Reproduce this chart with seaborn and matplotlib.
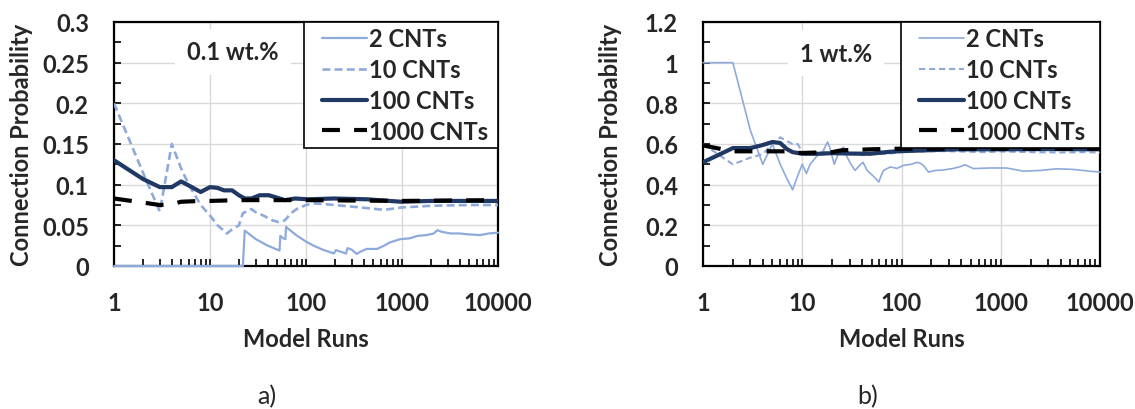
import matplotlib
matplotlib.use("Agg")
import matplotlib.pyplot as plt
import seaborn as sns
from matplotlib.ticker import MultipleLocator, LogLocator, NullFormatter, FixedLocator
from matplotlib.lines import Line2D
from matplotlib.legend_handler import HandlerLine2D

# ---------------- data ----------------
series_labels = ["2 CNTs", "10 CNTs", "100 CNTs", "1000 CNTs"]
x_tick_labels = ["1", "10", "100", "1000", "10000"]

# panel a) 0.1 wt.%
a_n_2 = [1, 22, 23, 30, 40, 53, 54, 58, 61, 62, 80, 100, 120, 150, 195, 205, 262, 270, 300,
         337, 360, 428, 550, 650, 750, 955, 1200, 1450, 1800, 2145, 2330, 2600, 3200, 4000,
         4800, 6500, 8000, 10000]
a_v_2 = [0.0, 0.0, 0.0435, 0.033, 0.025, 0.019, 0.037, 0.034, 0.033, 0.048, 0.0375, 0.030,
         0.025, 0.020, 0.0154, 0.0195, 0.0153, 0.022, 0.020, 0.0148, 0.017, 0.021, 0.021,
         0.025, 0.029, 0.033, 0.034, 0.037, 0.038, 0.040, 0.044, 0.042, 0.040, 0.040, 0.039,
         0.038, 0.040, 0.041]

a_n_10 = [1, 2, 3, 4, 5, 6, 8, 10, 12, 15, 17, 20, 22, 25, 27, 30, 36, 45, 52, 60, 70, 80,
          100, 120, 200, 300, 450, 650, 1000, 2000, 5000, 10000]
a_v_10 = [0.200, 0.115, 0.067, 0.150, 0.120, 0.100, 0.075, 0.062, 0.050, 0.040, 0.045,
          0.050, 0.065, 0.068, 0.070, 0.066, 0.062, 0.056, 0.054, 0.056, 0.065, 0.070,
          0.075, 0.077, 0.075, 0.073, 0.071, 0.069, 0.072, 0.074, 0.075, 0.075]

a_n_100 = [1, 2, 3, 4, 5, 6, 8, 10, 12, 14, 17, 20, 23, 27, 33, 41, 50, 60, 77, 105, 195,
           436, 975, 2000, 10000]
a_v_100 = [0.130, 0.107, 0.097, 0.097, 0.104, 0.099, 0.091, 0.097, 0.096, 0.093, 0.093,
           0.087, 0.083, 0.083, 0.087, 0.087, 0.084, 0.081, 0.083, 0.082, 0.083, 0.082,
           0.079, 0.080, 0.080]

a_n_1000 = [1, 2, 3, 4, 5, 8, 10, 20, 100, 1000, 10000]
a_v_1000 = [0.083, 0.078, 0.075, 0.076, 0.079, 0.080, 0.080, 0.081, 0.081, 0.080, 0.081]

# panel b) 1 wt.%
b_n_2 = [1, 2, 3, 4, 5, 6, 7, 8, 9, 10, 11, 12, 14, 16, 18, 19, 21, 23, 26, 28, 31, 34, 37,
         41, 45, 50, 55, 59, 63, 66, 77, 90, 105, 125, 143, 155, 166, 187, 220, 265, 333,
         400, 436, 531, 778, 1150, 1700, 2500, 3650, 5400, 7900, 10000]
b_v_2 = [1.0, 1.0, 0.667, 0.50, 0.60, 0.50, 0.43, 0.375, 0.444, 0.50, 0.455, 0.50, 0.54,
         0.56, 0.61, 0.58, 0.50, 0.55, 0.585, 0.54, 0.50, 0.47, 0.49, 0.51, 0.47, 0.45,
         0.43, 0.413, 0.45, 0.47, 0.487, 0.48, 0.495, 0.50, 0.51, 0.505, 0.495, 0.462,
         0.47, 0.472, 0.48, 0.49, 0.498, 0.479, 0.482, 0.482, 0.466, 0.47, 0.478, 0.475,
         0.466, 0.462]

b_n_10 = [1, 2, 3, 4, 5, 6, 7, 8, 9, 10, 11, 13, 15, 18, 22, 27, 33, 40, 50, 60, 77, 100,
          150, 250, 400, 700, 1000, 2000, 4000, 7000, 10000]
b_v_10 = [0.60, 0.50, 0.533, 0.55, 0.60, 0.633, 0.614, 0.60, 0.60, 0.56, 0.545, 0.554,
          0.56, 0.56, 0.55, 0.56, 0.55, 0.545, 0.55, 0.55, 0.553, 0.56, 0.563, 0.565,
          0.563, 0.56, 0.563, 0.56, 0.558, 0.56, 0.558]

b_n_100 = [1, 2, 3, 4, 5, 6, 7, 8, 10, 15, 20, 30, 48, 77, 100, 200, 360, 1000, 3000, 10000]
b_v_100 = [0.51, 0.58, 0.58, 0.595, 0.61, 0.605, 0.575, 0.56, 0.552, 0.552, 0.555, 0.553,
           0.552, 0.562, 0.565, 0.57, 0.574, 0.574, 0.575, 0.574]

b_n_1000 = [1, 2, 3, 5, 7, 8, 10, 20, 25, 50, 100, 1000, 10000]
b_v_1000 = [0.593, 0.564, 0.564, 0.564, 0.564, 0.557, 0.556, 0.560, 0.569, 0.574, 0.577,
            0.577, 0.577]

# ---------------- style ----------------
sns.set_theme(style="white")
plt.rcParams["font.family"] = ["Lato", "DejaVu Sans"]
plt.rcParams["font.weight"] = "bold"

LIGHT = "#8eaadb"
DARK = "#1f3864"
BLACK = "#000000"
GRID = "#d9d9d9"
FS = 17

W, H = 1135, 410
fig = plt.figure(figsize=(W / 100, H / 100), dpi=100)


def px_axes(x0, x1, y0, y1):
    return fig.add_axes([x0 / W, 1 - y1 / H, (x1 - x0) / W, (y1 - y0) / H])


def fmt_num(v, pos):
    return f"{v:.3f}".rstrip("0").rstrip(".")


def style_axes(ax, ymax, ymajor, yminor, width_px):
    ax.set_xscale("log")
    ax.set_xlim(1, 10000)
    ax.set_ylim(0, ymax)
    ax.set_xticks([1, 10, 100, 1000, 10000])
    ax.set_xticklabels(x_tick_labels)
    ax.xaxis.set_minor_locator(LogLocator(base=10, subs=range(2, 10), numticks=20))
    ax.xaxis.set_minor_formatter(NullFormatter())
    ax.yaxis.set_major_locator(MultipleLocator(ymajor))
    ax.yaxis.set_minor_locator(MultipleLocator(yminor))
    ax.yaxis.set_major_formatter(plt.FuncFormatter(fmt_num))
    ax.grid(True, which="major", color=GRID, lw=1.0, zorder=0)
    ax.set_axisbelow(True)
    for s in ax.spines.values():
        s.set_color("black")
        s.set_linewidth(1.6)
        s.set_visible(True)
    ax.tick_params(which="both", direction="in", length=5, width=1.2, color="black",
                   top=False, right=False, bottom=True, left=True)
    ax.tick_params(axis="x", which="major", pad=18, labelsize=FS)
    ax.tick_params(axis="y", which="major", pad=18, labelsize=FS)
    for lab in ax.get_xticklabels() + ax.get_yticklabels():
        lab.set_fontweight("bold")
    ax.set_xlabel("Model Runs", fontsize=FS, fontweight="bold", va="center")
    ax.xaxis.set_label_coords(0.5, -(340 - 267) / 244)
    ax.set_ylabel("Connection Probability", fontsize=FS, fontweight="bold", va="center")
    ax.yaxis.set_label_coords(-92 / width_px, 0.5)


def draw_panel(ax, data, lw_light, dash10, leg_x0):
    (n2, v2), (n10, v10), (n100, v100), (n1000, v1000) = data
    dash1000 = (0, (4.3, 3.4))
    sns.lineplot(x=n2, y=v2, ax=ax, color=LIGHT, lw=lw_light, estimator=None,
                 errorbar=None, zorder=3, clip_on=False)
    sns.lineplot(x=n10, y=v10, ax=ax, color=LIGHT, lw=lw_light + 0.3, estimator=None,
                 errorbar=None, linestyle=(0, dash10), zorder=3)
    sns.lineplot(x=n100, y=v100, ax=ax, color=DARK, lw=3.0, estimator=None,
                 errorbar=None, zorder=4)
    sns.lineplot(x=n1000, y=v1000, ax=ax, color=BLACK, lw=3.0, estimator=None,
                 errorbar=None, linestyle=dash1000, zorder=5)
    handles = [
        Line2D([], [], color=LIGHT, lw=lw_light),
        Line2D([], [], color=LIGHT, lw=lw_light + 0.3, linestyle=(0, dash10)),
        Line2D([], [], color=DARK, lw=3.0),
        Line2D([], [], color=BLACK, lw=3.0, linestyle=dash1000),
    ]
    hmap = {h: HandlerLine2D(xpad=0.55) for h in handles}
    leg = ax.legend(handles, series_labels, loc="upper right",
                    bbox_to_anchor=(leg_x0, 0, 1 - leg_x0, 1), mode="expand",
                    borderaxespad=0, frameon=True, fancybox=False, edgecolor="black",
                    framealpha=1, handlelength=2.45, handletextpad=0.08,
                    labelspacing=0.33, borderpad=0.22, handler_map=hmap,
                    prop={"family": ["Lato", "DejaVu Sans"], "weight": "bold", "size": FS})
    leg.get_frame().set_linewidth(1.2)
    leg.set_zorder(10)


# panel a
ax1 = px_axes(114, 498, 23, 267)
style_axes(ax1, 0.3, 0.05, 0.025, 384)
draw_panel(ax1, [(a_n_2, a_v_2), (a_n_10, a_v_10), (a_n_100, a_v_100), (a_n_1000, a_v_1000)],
           1.6, (3, 1.6), (304 - 114) / 384)
ax1.text((233 - 114) / 384, (267 - 53) / 244, "0.1 wt.%", transform=ax1.transAxes,
         ha="center", va="center", fontsize=FS, fontweight="bold", zorder=6,
         bbox=dict(boxstyle="square,pad=0.5", fc="white", ec="none"))

# panel b
ax2 = px_axes(703, 1100, 23, 267)
style_axes(ax2, 1.2, 0.2, 0.1, 397)
draw_panel(ax2, [(b_n_2, b_v_2), (b_n_10, b_v_10), (b_n_100, b_v_100), (b_n_1000, b_v_1000)],
           1.2, (3, 1.8), (901 - 703) / 397)
ax2.text((836 - 703) / 397, (267 - 54) / 244, "1 wt.%", transform=ax2.transAxes,
         ha="center", va="center", fontsize=FS, fontweight="bold", zorder=6,
         bbox=dict(boxstyle="square,pad=0.5", fc="white", ec="none"))

fig.text(267 / W, 1 - 397 / H, "a)", ha="center", va="center", fontsize=18,
         fontweight="normal")
fig.text(868 / W, 1 - 397 / H, "b)", ha="center", va="center", fontsize=18,
         fontweight="normal")

fig.savefig("out.png", dpi=100, facecolor="white")
